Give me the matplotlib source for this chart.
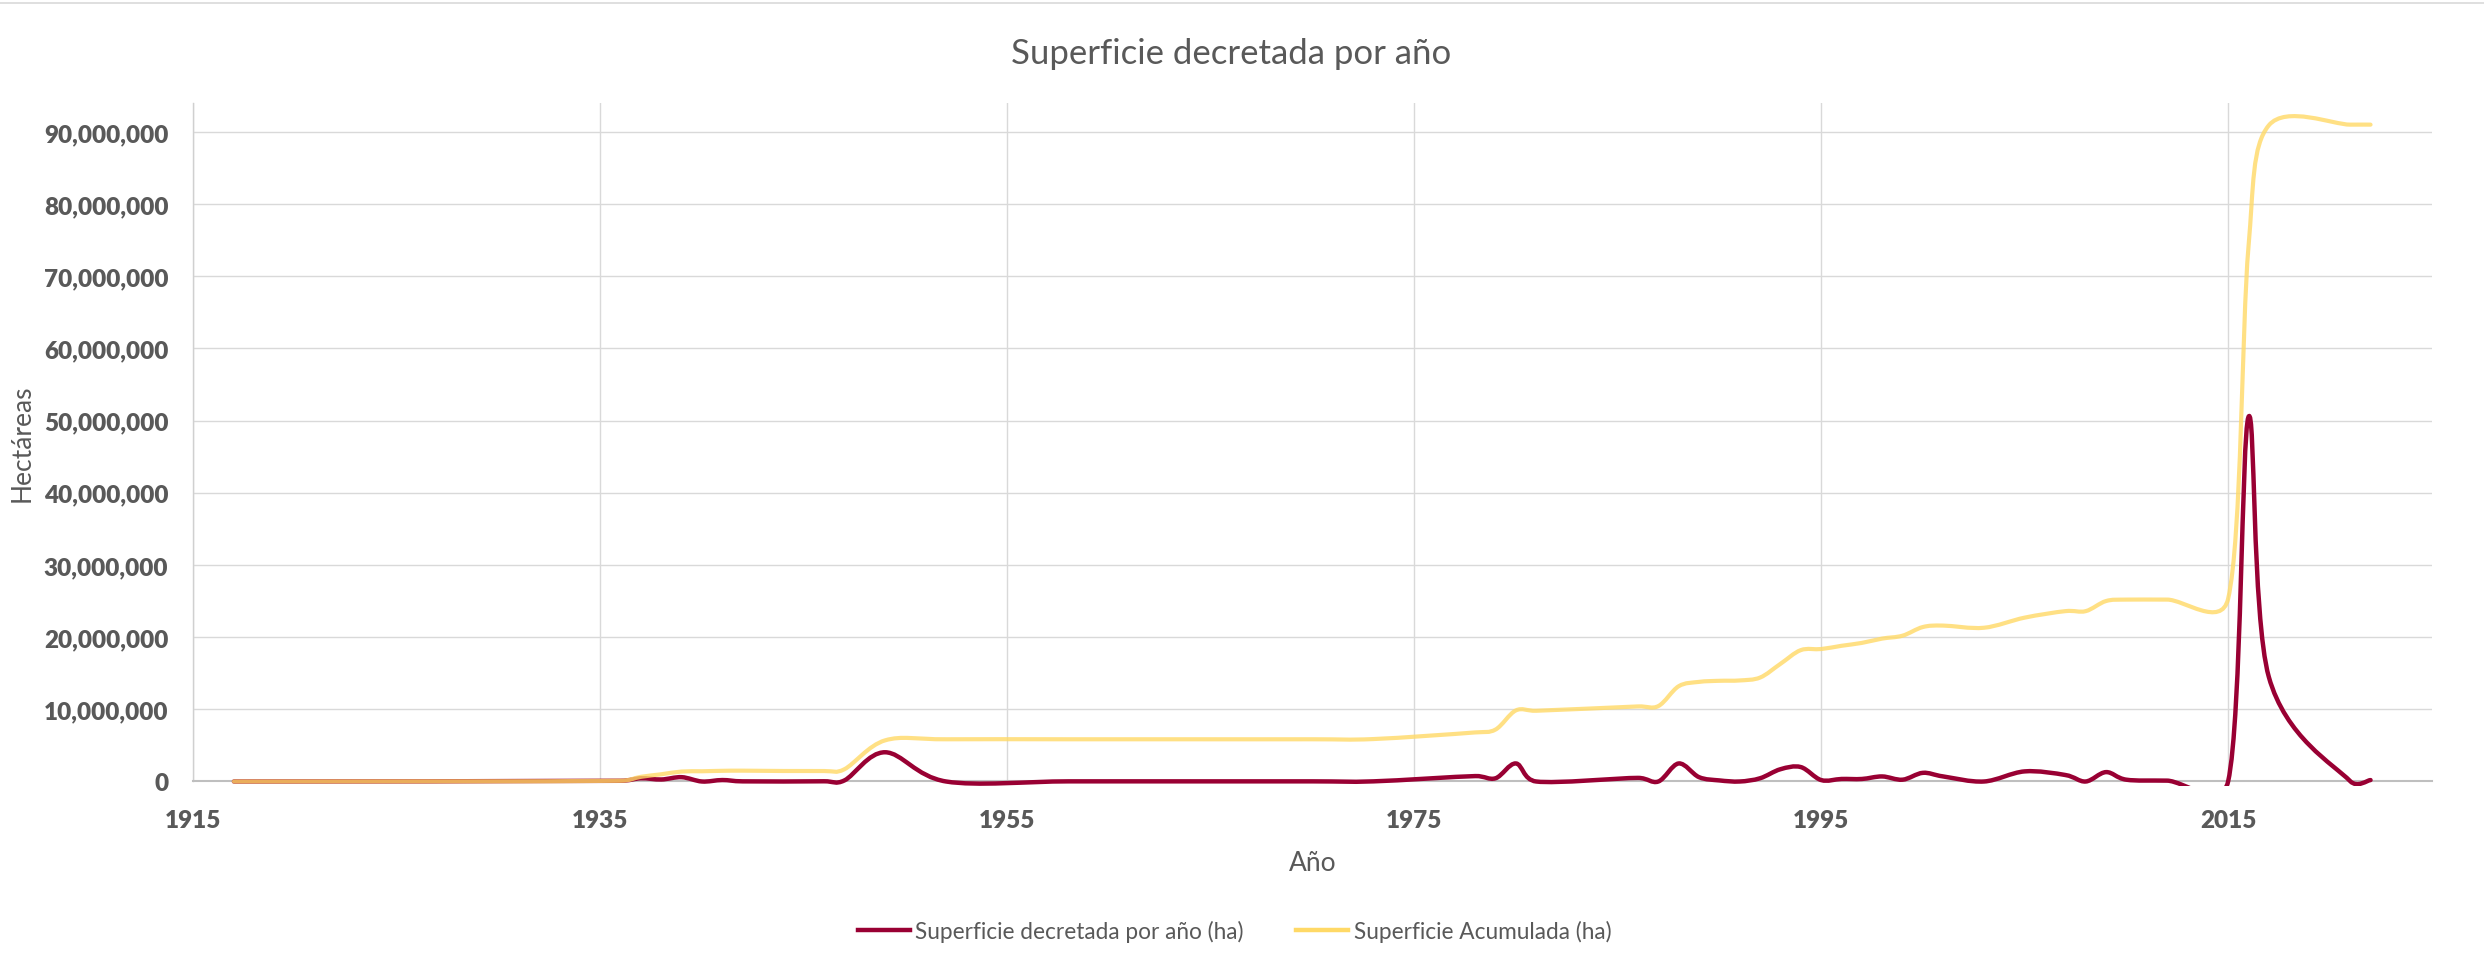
import matplotlib
matplotlib.use('Agg')
import numpy as np
import matplotlib.pyplot as plt
from matplotlib.path import Path
from matplotlib.patches import PathPatch, Rectangle
from matplotlib.lines import Line2D

plt.rcParams['font.family'] = ['Lato', 'DejaVu Sans']

# años con decretos y superficies (ha)
years = [1917, 1936, 1937, 1938, 1939, 1940, 1941, 1942, 1946, 1947,
         1949, 1952, 1958, 1964, 1970, 1973, 1978, 1979, 1980, 1981,
         1986, 1987, 1988, 1989, 1990, 1991, 1992, 1993, 1994, 1995,
         1996, 1997, 1998, 1999, 2000, 2001, 2003, 2005, 2007, 2008,
         2009, 2010, 2012, 2015, 2016, 2017, 2021, 2022]
decretada_mha = [0.0, 0.1, 0.45, 0.28, 0.6, 0.0, 0.2, 0.02, 0.03, 0.15,
                 4.05, 0.0, 0.02, 0.02, 0.02, 0.02, 0.75, 0.45, 2.5, 0.0,
                 0.5, 0.0, 2.5, 0.6, 0.15, 0.0, 0.45, 1.7, 2.0, 0.2,
                 0.35, 0.35, 0.7, 0.25, 1.2, 0.7, 0.0, 1.4, 0.9, 0.0,
                 1.3, 0.25, 0.12, 0.0, 50.5, 14.5, 0.05, 0.2]
acumulada_mha = [0.0, 0.1, 0.65, 1.0, 1.38, 1.42, 1.48, 1.5, 1.45, 1.7,
                 5.7, 5.85, 5.85, 5.85, 5.85, 5.88, 6.8, 7.2, 9.85, 9.8,
                 10.4, 10.45, 13.2, 13.8, 13.95, 14.0, 14.4, 16.3, 18.2, 18.35,
                 18.8, 19.2, 19.8, 20.2, 21.4, 21.6, 21.3, 22.7, 23.6, 23.6,
                 25.0, 25.2, 25.2, 25.3, 74.0, 90.9, 91.0, 91.0]

decretada = [v * 1e6 for v in decretada_mha]
acumulada = [v * 1e6 for v in acumulada_mha]

x_ticks = [1915, 1935, 1955, 1975, 1995, 2015]
y_ticks = [0, 10e6, 20e6, 30e6, 40e6, 50e6, 60e6, 70e6, 80e6, 90e6]
XMIN, XMAX = 1915, 2025
YMIN, YMAX = 0, 94e6

RED = '#990033'
YELLOW = '#FFD966'
GREY_TXT = '#595959'


def smooth_path(xs, ys, sx, sy):
    # curva tipo "linea suavizada" de Excel (bezier con tangentes limitadas)
    P = np.column_stack([np.asarray(xs, float) * sx, np.asarray(ys, float) * sy])
    n = len(P)
    verts = [P[0]]
    codes = [Path.MOVETO]
    for i in range(n - 1):
        p0 = P[max(i - 1, 0)]
        p1 = P[i]
        p2 = P[i + 1]
        p3 = P[min(i + 2, n - 1)]
        d = np.hypot(*(p2 - p1))
        t1 = (p2 - p0) / 6.0
        t2 = (p3 - p1) / 6.0
        l1 = np.hypot(*t1)
        l2 = np.hypot(*t2)
        if l1 > d / 2:
            t1 = t1 * (d / 2) / l1
        if l2 > d / 2:
            t2 = t2 * (d / 2) / l2
        verts += [p1 + t1, p2 - t2, p2]
        codes += [Path.CURVE4] * 3
    verts = np.array(verts) / np.array([sx, sy])
    return Path(verts, codes)


fig = plt.figure(figsize=(24.84, 9.70), dpi=100)
ax = fig.add_axes([0.0778, 0.1933, 0.9011, 0.6995])
ax.set_xlim(XMIN, XMAX)
ax.set_ylim(YMIN, YMAX)

bbox = ax.get_window_extent()
sx = bbox.width / (XMAX - XMIN)
sy = bbox.height / (YMAX - YMIN)

clip = Rectangle((0, -0.006), 1, 1.012, transform=ax.transAxes)

p_red = PathPatch(smooth_path(years, decretada, sx, sy), fill=False, edgecolor=RED,
                  lw=3.2, capstyle='round', joinstyle='round', zorder=3)
ax.add_patch(p_red)
p_red.set_clip_path(clip)
p_yel = PathPatch(smooth_path(years, acumulada, sx, sy), fill=False, edgecolor=YELLOW,
                  lw=3.0, alpha=0.8, capstyle='round', joinstyle='round', zorder=4)
ax.add_patch(p_yel)
p_yel.set_clip_path(clip)

ax.set_xticks(x_ticks)
ax.set_xticklabels([str(v) for v in x_ticks], fontweight='heavy')
ax.set_yticks(y_ticks)
ax.set_yticklabels([f'{int(v):,}' for v in y_ticks], fontweight='heavy')
ax.grid(True, color='#D9D9D9', lw=1.0)
ax.set_axisbelow(True)
ax.tick_params(axis='both', length=0, labelsize=17.5, labelcolor=GREY_TXT)
ax.tick_params(axis='x', pad=20)
ax.tick_params(axis='y', pad=18)

for s in ['top', 'right']:
    ax.spines[s].set_visible(False)
ax.spines['left'].set_color('#D0D0D0')
ax.spines['left'].set_linewidth(1.0)
ax.spines['bottom'].set_color('#BFBFBF')
ax.spines['bottom'].set_linewidth(1.5)

fig.text(0.4956, 0.944, 'Superficie decretada por año', ha='center', va='center',
         fontsize=25, color=GREY_TXT)
fig.text(0.5286, 0.110, 'Año', ha='center', va='center', fontsize=19, color=GREY_TXT)
fig.text(0.0089, 0.543, 'Hectáreas', ha='center', va='center', rotation=90,
         fontsize=19, color=GREY_TXT)

# linea gris del borde superior
fig.add_artist(Line2D([0, 1], [0.9958, 0.9958], transform=fig.transFigure,
                      color='#D9D9D9', lw=1.2))

handles = [Line2D([], [], color=RED, lw=3.2),
           Line2D([], [], color=YELLOW, lw=3.2)]
fig.legend(handles, ['Superficie decretada por año (ha)', 'Superficie Acumulada (ha)'],
           loc='center', bbox_to_anchor=(0.497, 0.039), ncol=2, frameon=False,
           fontsize=16.3, labelcolor=GREY_TXT, handlelength=2.3, handletextpad=0.25,
           columnspacing=2.3)

fig.savefig('out.png', dpi=100)
